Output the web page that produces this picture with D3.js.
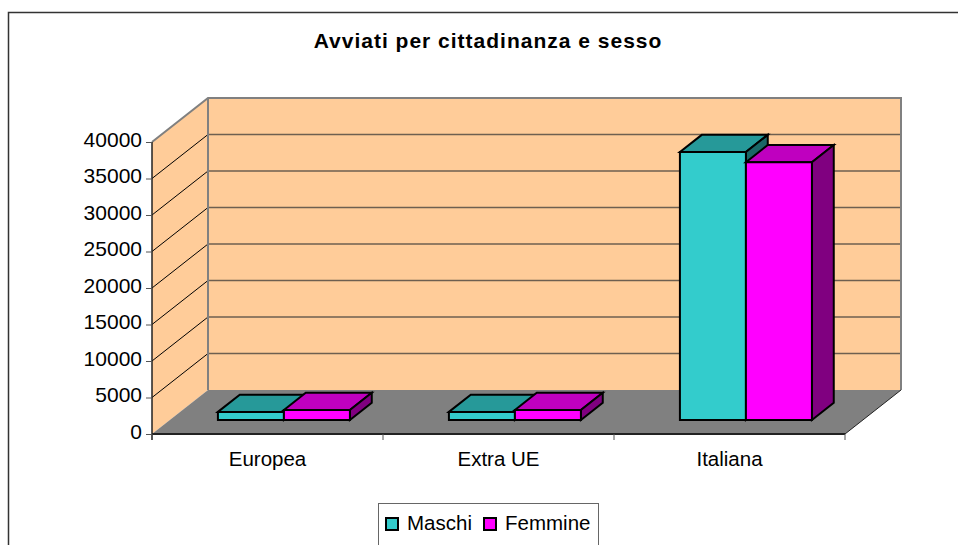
<!DOCTYPE html>
<html><head><meta charset="utf-8">
<script src="https://cdn.jsdelivr.net/npm/d3@7"></script>
<style>html,body{margin:0;padding:0;background:#fff;overflow:hidden}svg{display:block}text{font-family:"Liberation Sans",Arial,sans-serif;fill:#000}</style>
</head><body><svg id="c" width="958" height="545"></svg>
<script>
const chartTitle = "Avviati per cittadinanza e sesso";
const categories = ["Europea", "Extra UE", "Italiana"];
const seriesNames = ["Maschi", "Femmine"];
const maschi = [1100, 1100, 36700];
const femmine = [1370, 1370, 35300];
const yTicks = [0, 5000, 10000, 15000, 20000, 25000, 30000, 35000, 40000];
const frontColors = ["#33CCCC", "#FF00FF"];
const topColors = ["#269999", "#BF00BF"];
const sideColors = ["#1A6666", "#800080"];

const svg = d3.select("#c");
const x = d3.scaleBand().domain(categories).range([152, 845]);
const y = d3.scaleLinear().domain([0, 40000]).range([434, 142]);
const depth = d3.scaleLinear().domain([0, 1]).range([0, 56]);
const rise = d3.scaleLinear().domain([0, 1]).range([0, -44]);
const P = (px, py, d) => [px + depth(d), py + rise(d)];
const poly = (pts, fill, stroke, sw) => svg.append("path")
  .attr("d", d3.line()(pts) + "Z").attr("fill", fill)
  .attr("stroke", stroke).attr("stroke-width", sw).attr("stroke-linejoin", "miter");

// chart area border
svg.append("path").attr("d", "M8.5,545V12.5H958").attr("fill", "none").attr("stroke", "#333").attr("stroke-width", 1.5);

const x0 = x.range()[0], x1 = x.range()[1], yB = y(0), yT = y(40000);
// walls and floor
poly([P(x0, yB, 0), P(x0, yT, 0), P(x0, yT, 1), P(x0, yB, 1)], "#FFCC99", "none", 0);
poly([P(x0, yB, 1), P(x0, yT, 1), P(x1, yT, 1), P(x1, yB, 1)], "#FFCC99", "none", 0);
poly([P(x0, yB, 0), P(x0, yB, 1), P(x1, yB, 1), P(x1, yB, 0)], "#808080", "none", 0);

// gridlines
yTicks.slice(1, -1).forEach(v => {
  svg.append("path").attr("fill", "none").attr("stroke", "#000").attr("stroke-width", 1)
    .attr("d", d3.line()([P(x0, y(v), 0), P(x0, y(v), 1)]));
  svg.append("path").attr("fill", "none").attr("stroke", "#6e5f50").attr("stroke-width", 1.3)
    .attr("d", d3.line()([P(x0, y(v), 1), P(x1, y(v), 1)]));
});
// wall outline
svg.append("path").attr("fill", "none").attr("stroke", "#808080").attr("stroke-width", 2)
  .attr("d", d3.line()([P(x0, yT, 0), P(x0, yT, 1), P(x1, yT, 1), P(x1, yB, 1)]));
svg.append("path").attr("fill", "none").attr("stroke", "#808080").attr("stroke-width", 2)
  .attr("d", d3.line()([P(x0, yB, 1), P(x0, yT, 1)]));
svg.append("path").attr("fill", "none").attr("stroke", "#222").attr("stroke-width", 1)
  .attr("d", d3.line()([P(x1, yB, 0), P(x1, yB, 1)]));

// bars
const dFront = 0.32, dBack = 0.71;
const inner = d3.scaleBand().domain(seriesNames).paddingInner(0);
categories.forEach((c, ci) => {
  inner.range([x(c) + 48, x(c) + x.bandwidth() - 51]);
  [maschi, femmine].forEach((vals, si) => {
    const s = seriesNames[si], a = inner(s), b = a + inner.bandwidth(), py = y(vals[ci]);
    const sw = 2;
    poly([P(a, py, dFront), P(a, py, dBack), P(b, py, dBack), P(b, py, dFront)], topColors[si], "#000", sw);
    poly([P(b, yB, dFront), P(b, yB, dBack), P(b, py, dBack), P(b, py, dFront)], sideColors[si], "#000", sw);
    poly([P(a, yB, dFront), P(a, py, dFront), P(b, py, dFront), P(b, yB, dFront)], frontColors[si], "#000", sw);
  });
});

// axes
const yAxis = d3.axisLeft(y).tickValues(yTicks).tickSize(6).tickPadding(4).tickFormat(d3.format("d"));
const gy = svg.append("g").attr("transform", "translate(152,0)").call(yAxis);
gy.select(".domain").attr("stroke", "#222").attr("stroke-width", 1.5).attr("d", `M0,${yT}V${yB + 6}`);
gy.selectAll(".tick line").attr("stroke", "#555");
gy.selectAll("text").attr("font-size", 21).attr("dy", "0.2em").style("font-family", '"Liberation Sans"');

const xAxis = d3.axisBottom(x).tickSize(0).tickPadding(17);
const gx = svg.append("g").attr("transform", `translate(0,${yB})`).call(xAxis);
gx.select(".domain").attr("stroke", "#222").attr("stroke-width", 2).attr("d", `M${x0},0H${x1}`);
gx.selectAll("text").attr("font-size", 20.5).style("font-family", '"Liberation Sans"');
categories.concat(["_end"]).forEach((c, i) => {
  const tx = c === "_end" ? x1 : x(c);
  gx.append("line").attr("x1", tx).attr("x2", tx).attr("y1", 0).attr("y2", 6).attr("stroke", "#555");
});

// title
svg.append("text").attr("x", 488).attr("y", 48).attr("text-anchor", "middle")
  .attr("font-size", 21).attr("letter-spacing", 1).attr("font-weight", "bold").text(chartTitle);

// legend
svg.append("rect").attr("x", 378.5).attr("y", 503.5).attr("width", 220).attr("height", 60)
  .attr("fill", "#fff").attr("stroke", "#666").attr("stroke-width", 1);
const lg = [[386, 407, "Maschi"], [484, 505, "Femmine"]];
seriesNames.forEach((s, i) => {
  svg.append("rect").attr("x", lg[i][0]).attr("y", 518).attr("width", 12).attr("height", 12)
    .attr("fill", frontColors[i]).attr("stroke", "#000").attr("stroke-width", 2);
  svg.append("text").attr("x", lg[i][1]).attr("y", 530).attr("font-size", 20.5).text(s);
});
</script></body></html>
